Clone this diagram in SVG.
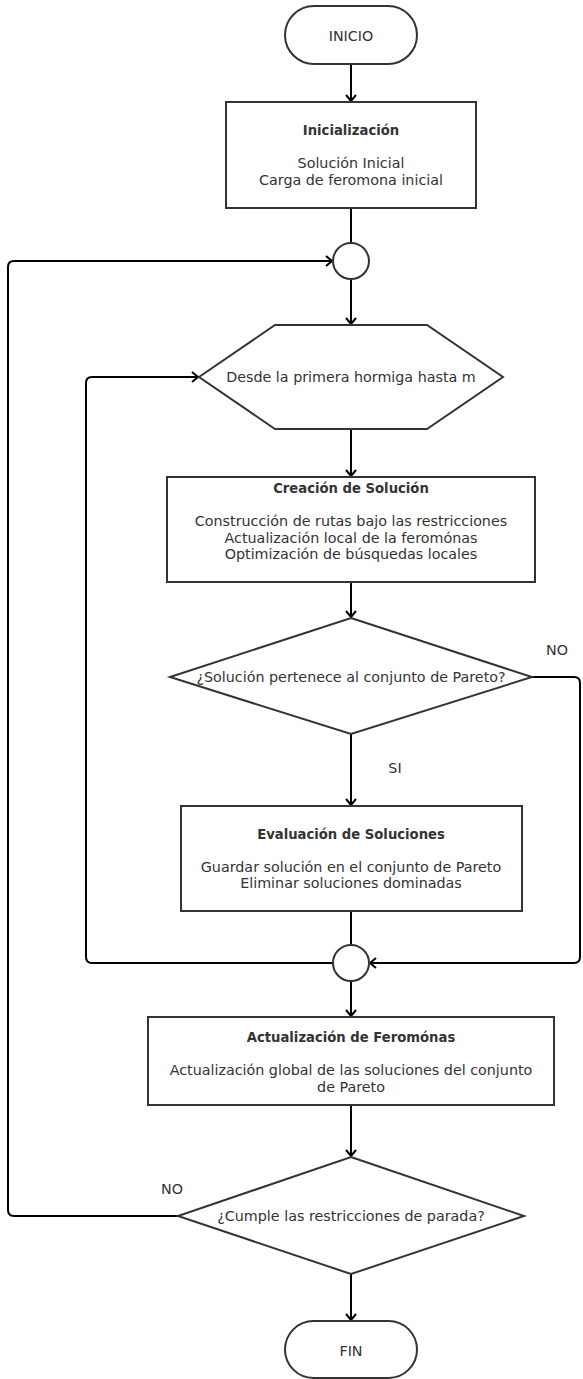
<svg xmlns="http://www.w3.org/2000/svg" width="583" height="1379" viewBox="0 0 583 1379">
<defs>
<style>
.shape{fill:#fff;stroke:#333;stroke-width:2}
.conn{fill:none;stroke:#000;stroke-width:2}
.t{font-family:"DejaVu Sans",Verdana,sans-serif;font-size:14.3px;fill:#333;text-anchor:middle}
.b{font-family:"DejaVu Sans",Verdana,sans-serif;font-size:13.2px;font-weight:bold;fill:#333;text-anchor:middle}
</style>
<marker id="arr" viewBox="0 0 8 12" markerWidth="8" markerHeight="12" refX="7" refY="6" orient="auto" markerUnits="userSpaceOnUse">
<path d="M1,1 L7,6 L1,11" fill="none" stroke="#000" stroke-width="2"/>
</marker>
</defs>
<rect width="583" height="1379" fill="#fff"/>
<g id="connectors">
<path class="conn" d="M351,64 V101" marker-end="url(#arr)"/>
<path class="conn" d="M351,208 V243"/>
<path class="conn" d="M351,279 V324" marker-end="url(#arr)"/>
<path class="conn" d="M351,429 V476" marker-end="url(#arr)"/>
<path class="conn" d="M351,582 V617" marker-end="url(#arr)"/>
<path class="conn" d="M351,734 V805" marker-end="url(#arr)"/>
<path class="conn" d="M532,677 H574 Q580,677 580,683 V957 Q580,963 574,963 H370" marker-end="url(#arr)"/>
<path class="conn" d="M351,911 V945"/>
<path class="conn" d="M333,963 H92 Q86,963 86,957 V383 Q86,377 92,377 H198" marker-end="url(#arr)"/>
<path class="conn" d="M351,981 V1016" marker-end="url(#arr)"/>
<path class="conn" d="M351,1105 V1156" marker-end="url(#arr)"/>
<path class="conn" d="M178,1216 H14 Q8,1216 8,1210 V267 Q8,261 14,261 H332" marker-end="url(#arr)"/>
<path class="conn" d="M351,1274 V1320" marker-end="url(#arr)"/>
<text class="t" x="557" y="655">NO</text>
<text class="t" x="395" y="773">SI</text>
<text class="t" x="172" y="1194">NO</text>
</g>
<g id="inicio">
<rect class="shape" x="285" y="6" width="132" height="58" rx="29"/>
<text class="t" x="351" y="41">INICIO</text>
</g>
<g id="inicializacion">
<rect class="shape" x="226" y="102" width="250" height="106"/>
<text class="b" x="351" y="135">Inicialización</text>
<text class="t" x="351" y="168">Solución Inicial</text>
<text class="t" x="351" y="185">Carga de feromona inicial</text>
</g>
<g id="union1">
<circle class="shape" cx="351" cy="261" r="18"/>
</g>
<g id="bucle-hormigas">
<polygon class="shape" points="199,377 275,325 427,325 503,377 427,429 275,429"/>
<text class="t" x="351" y="382">Desde la primera hormiga hasta m</text>
</g>
<g id="creacion">
<rect class="shape" x="167" y="477" width="368" height="105"/>
<text class="b" x="351" y="493">Creación de Solución</text>
<text class="t" x="351" y="526">Construcción de rutas bajo las restricciones</text>
<text class="t" x="351" y="542.5">Actualización local de la feromónas</text>
<text class="t" x="351" y="559">Optimización de búsquedas locales</text>
</g>
<g id="decision-pareto">
<polygon class="shape" points="351,618 532,677 351,734 170,677"/>
<text class="t" x="351" y="682">¿Solución pertenece al conjunto de Pareto?</text>
</g>
<g id="evaluacion">
<rect class="shape" x="181" y="806" width="341" height="105"/>
<text class="b" x="351" y="839">Evaluación de Soluciones</text>
<text class="t" x="351" y="872">Guardar solución en el conjunto de Pareto</text>
<text class="t" x="351" y="888">Eliminar soluciones dominadas</text>
</g>
<g id="union2">
<circle class="shape" cx="351" cy="963" r="18"/>
</g>
<g id="actualizacion">
<rect class="shape" x="148" y="1017" width="406" height="88"/>
<text class="b" x="351" y="1042">Actualización de Feromónas</text>
<text class="t" x="351" y="1075">Actualización global de las soluciones del conjunto</text>
<text class="t" x="351" y="1092">de Pareto</text>
</g>
<g id="decision-parada">
<polygon class="shape" points="351,1157 524,1216 351,1274 178,1216"/>
<text class="t" x="351" y="1221">¿Cumple las restricciones de parada?</text>
</g>
<g id="fin">
<rect class="shape" x="285" y="1321" width="132" height="57" rx="28.5"/>
<text class="t" x="351" y="1356">FIN</text>
</g>
</svg>
